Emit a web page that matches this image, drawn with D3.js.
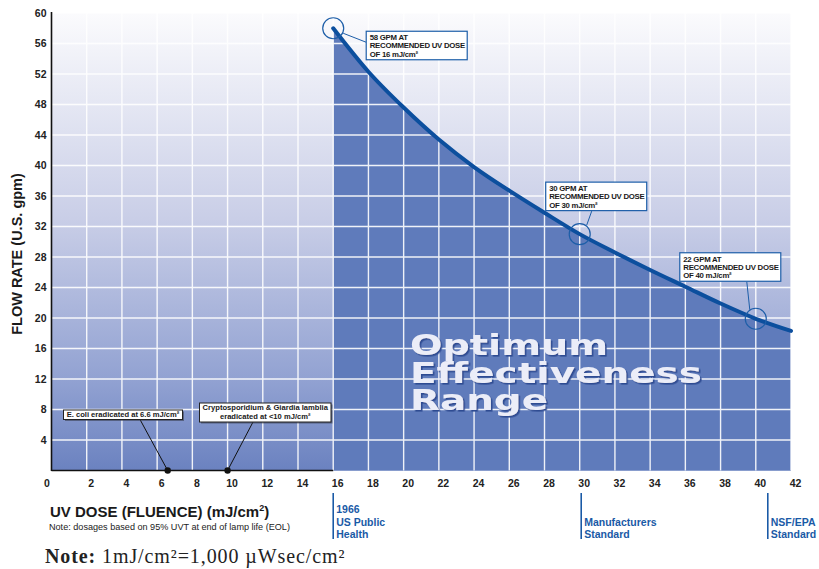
<!DOCTYPE html>
<html>
<head>
<meta charset="utf-8">
<script src="https://cdn.jsdelivr.net/npm/d3@7"></script>
<style>
  body { margin: 0; background: #fff; }
  svg { display: block; font-family: "Liberation Sans", Arial, sans-serif; }
</style>
</head>
<body>
<svg id="chart" width="819" height="569"></svg>
<script>
// flow rate vs UV dose
var doses = [16, 18, 20, 22, 24, 26, 28, 30, 32, 34, 36, 38, 40, 42];
var flowRates = [58, 52.3, 47.6, 43.4, 39.8, 36.7, 33.8, 31.0, 28.6, 26.3, 24.1, 21.9, 19.9, 18.3];

var xTickValues = [0, 2, 4, 6, 8, 10, 12, 14, 16, 18, 20, 22, 24, 26, 28, 30, 32, 34, 36, 38, 40, 42];
var yTickValues = [4, 8, 12, 16, 20, 24, 28, 32, 36, 40, 44, 48, 52, 56, 60];

// callouts on the curve
var calloutDoses = [16, 30, 40];
var calloutTexts = [
	["58 GPM AT", "RECOMMENDED UV DOSE", "OF 16 mJ/cm²"],
	["30 GPM AT", "RECOMMENDED UV DOSE", "OF 30 mJ/cm²"],
	["22 GPM AT", "RECOMMENDED UV DOSE", "OF 40 mJ/cm²"]
];

// pathogen markers on the x axis
var pathogenDoses = [6.6, 10];
var pathogenTexts = [
	["E. coli eradicated at 6.6 mJ/cm²"],
	["Cryptosporidium & Giardia lamblia", "eradicated at <10 mJ/cm²"]
];

// standards under the axis
var standardDoses = [16, 30, 40];
var standardTexts = [
	["1966", "US Public", "Health"],
	["Manufacturers", "Standard"],
	["NSF/EPA", "Standard"]
];

var svg = d3.select('#chart');

var x = d3.scaleLinear().domain([0, 42]).range([51.5, 791]);
var y = d3.scaleLinear().domain([0, 60]).range([470.5, 13]);

var defs = svg.append('defs');
// background gradient
var grad = defs.append('linearGradient')
	.attr('id', 'bgGrad')
	.attr('x1', 0).attr('y1', 0).attr('x2', 0).attr('y2', 1);
grad.append('stop').attr('offset', '0%').attr('stop-color', '#fbfbfd');
grad.append('stop').attr('offset', '45%').attr('stop-color', '#c9cee7');
grad.append('stop').attr('offset', '80%').attr('stop-color', '#92a2d2');
grad.append('stop').attr('offset', '100%').attr('stop-color', '#6b82c0');

// shadow for the big label
var shadow = defs.append('filter').attr('id', 'bigShadow')
	.attr('x', '-5%').attr('y', '-20%').attr('width', '115%').attr('height', '150%');
shadow.append('feDropShadow')
	.attr('dx', 1.6).attr('dy', 1.6).attr('stdDeviation', 0.3)
	.attr('flood-color', '#2f4c92').attr('flood-opacity', 1);

svg.append('rect')
	.attr('x', x(0))
	.attr('y', y(60))
	.attr('width', x(42) - x(0))
	.attr('height', y(0) - y(60))
	.style('fill', 'url(#bgGrad)');

// area under the curve
var pts = doses.map(function(d, i) { return [d, flowRates[i]]; });

var area = d3.area()
	.x(function(d) { return x(d[0]); })
	.y0(y(0))
	.y1(function(d) { return y(d[1]); })
	.curve(d3.curveMonotoneX);

svg.append('path')
	.datum(pts)
	.attr('d', area)
	.style('fill', '#5f7bbb');

// grid
var grid = svg.append('g').style('stroke', '#ffffff').style('stroke-width', 1.4).style('opacity', 0.9);
grid.selectAll('line.h')
	.data(yTickValues)
	.enter().append('line')
	.attr('class', 'h')
	.attr('x1', x(0)).attr('x2', x(42))
	.attr('y1', function(d) { return y(d); })
	.attr('y2', function(d) { return y(d); });
grid.selectAll('line.v')
	.data(xTickValues.filter(function(d) { return d > 0; }))
	.enter().append('line')
	.attr('class', 'v')
	.attr('y1', y(0)).attr('y2', y(60))
	.attr('x1', function(d) { return x(d); })
	.attr('x2', function(d) { return x(d); });

// Optimum Effectiveness Range
var bigText = [
	{t: 'Optimum', w: 198, b: 355},
	{t: 'Effectiveness', w: 292, b: 383},
	{t: 'Range', w: 138, b: 410}
];
svg.append('g')
	.style('font-family', '"DejaVu Sans", sans-serif')
	.style('font-weight', 'bold')
	.style('font-size', '29px')
	.attr('filter', 'url(#bigShadow)')
	.selectAll('text')
	.data(bigText)
	.enter().append('text')
	.attr('x', 410)
	.attr('y', function(d) { return d.b; })
	.attr('textLength', function(d) { return d.w; })
	.attr('lengthAdjust', 'spacingAndGlyphs')
	.style('fill', '#ebedf8')
	.text(function(d) { return d.t; });

// curve
var line = d3.line()
	.x(function(d) { return x(d[0]); })
	.y(function(d) { return y(d[1]); })
	.curve(d3.curveMonotoneX);

svg.append('path')
	.datum(pts)
	.attr('d', line)
	.style('fill', 'none')
	.style('stroke', '#0c4f9e')
	.style('stroke-width', 4)
	.style('stroke-linecap', 'round');

// axes
var yAxis = svg.append('g')
	.attr('transform', 'translate(' + x(0) + ',0)')
	.call(d3.axisLeft(y).tickValues(yTickValues).tickSize(0).tickPadding(5));
yAxis.select('.domain').remove();
yAxis.selectAll('text')
	.style('font-size', '10.5px')
	.style('font-weight', 'bold')
	.style('fill', '#222');

var xAxis = svg.append('g')
	.attr('transform', 'translate(0,' + y(0) + ')')
	.call(d3.axisBottom(x).tickValues(xTickValues).tickSize(0).tickPadding(9));
xAxis.select('.domain').remove();
xAxis.selectAll('text')
	.attr('dx', function(d) { return d === 0 ? -5 : 4; })
	.style('font-size', '10.5px')
	.style('font-weight', 'bold')
	.style('fill', '#222');

svg.append('line')
	.attr('x1', x(0)).attr('x2', x(0))
	.attr('y1', y(60) - 1).attr('y2', y(0) + 0.5)
	.style('stroke', '#111').style('stroke-width', 1.6);
svg.append('line')
	.attr('x1', x(0)).attr('x2', x(16))
	.attr('y1', y(0)).attr('y2', y(0))
	.style('stroke', '#111').style('stroke-width', 1.6);

// curve callouts: box offset from circle, leader ends
var calloutLayout = [
	{bx: 33, by: 3, lx1: 10, ly1: 5, lx2: 33, ly2: 14},
	{bx: -34, by: -52, lx1: 7, ly1: -9, lx2: 12, ly2: -23},
	{bx: -76, by: -66, lx1: -6, ly1: -9, lx2: -9, ly2: -37}
];
calloutDoses.forEach(function(d, i) {
	var cx = x(d), cy = y(flowRates[doses.indexOf(d)]);
	var lay = calloutLayout[i];
	var g = svg.append('g');
	g.append('line')
		.attr('x1', cx + lay.lx1).attr('y1', cy + lay.ly1)
		.attr('x2', cx + lay.lx2).attr('y2', cy + lay.ly2)
		.style('stroke', '#1d5ea8').style('stroke-width', 1);
	g.append('circle')
		.attr('cx', cx).attr('cy', cy).attr('r', 10.5)
		.style('fill', 'none').style('stroke', '#1d5ea8').style('stroke-width', 1.2);
	g.append('rect')
		.attr('x', cx + lay.bx).attr('y', cy + lay.by)
		.attr('width', 101).attr('height', 28.5)
		.style('fill', '#fff').style('stroke', '#1d5ea8').style('stroke-width', 1.2);
	g.selectAll('text')
		.data(calloutTexts[i])
		.enter().append('text')
		.attr('x', cx + lay.bx + 3.5)
		.attr('y', function(t, j) { return cy + lay.by + 9 + j * 8.2; })
		.style('font-size', '7.8px')
		.style('font-weight', 'bold')
		.style('letter-spacing', '-0.25px')
		.style('fill', '#1a1a1a')
		.text(function(t) { return t; });
});

// pathogen callouts
var pathLayout = [
	{x: 63.5, y: 410, w: 119, h: 9.5, lx: 140},
	{x: 199.5, y: 403, w: 131.5, h: 19, lx: 253}
];
pathogenDoses.forEach(function(d, i) {
	var lay = pathLayout[i];
	var g = svg.append('g');
	g.append('line')
		.attr('x1', lay.lx).attr('y1', lay.y + lay.h)
		.attr('x2', x(d)).attr('y2', y(0))
		.style('stroke', '#111').style('stroke-width', 1);
	g.append('circle')
		.attr('cx', x(d)).attr('cy', y(0)).attr('r', 3.2)
		.style('fill', '#111');
	g.append('rect')
		.attr('x', lay.x + 1.5).attr('y', lay.y + 1.5)
		.attr('width', lay.w).attr('height', lay.h)
		.style('fill', '#3a3f52').style('opacity', 0.6);
	g.append('rect')
		.attr('x', lay.x).attr('y', lay.y)
		.attr('width', lay.w).attr('height', lay.h)
		.style('fill', '#fff').style('stroke', '#222').style('stroke-width', 1);
	g.selectAll('text')
		.data(pathogenTexts[i])
		.enter().append('text')
		.attr('x', lay.x + lay.w / 2)
		.attr('y', function(t, j) { return lay.y + 7.2 + j * 8.6; })
		.attr('text-anchor', 'middle')
		.style('font-size', '7.6px')
		.style('font-weight', 'bold')
		.style('fill', '#1a1a1a')
		.text(function(t) { return t; });
});

// standards (small nudge so the markers sit where the print has them)
var standardNudge = [0, 1.5, 12];
standardDoses.forEach(function(d, i) {
	var sx = x(d) + standardNudge[i];
	var g = svg.append('g');
	g.append('line')
		.attr('x1', sx).attr('x2', sx)
		.attr('y1', 493).attr('y2', 539)
		.style('stroke', '#1a5aa6').style('stroke-width', 1.6);
	var lines = standardTexts[i];
	g.selectAll('text')
		.data(lines)
		.enter().append('text')
		.attr('x', sx + 3)
		.attr('y', function(t, j) { return 538 - (lines.length - 1 - j) * 12.3; })
		.style('font-size', '10.5px')
		.style('font-weight', 'bold')
		.style('fill', '#1a5aa6')
		.text(function(t) { return t; });
});

// titles
svg.append('text')
	.attr('transform', 'translate(22,254) rotate(-90)')
	.attr('text-anchor', 'middle')
	.style('font-size', '14.5px')
	.style('font-weight', 'bold')
	.style('fill', '#1a1a1a')
	.text('FLOW RATE (U.S. gpm)');

var xt = svg.append('text')
	.attr('x', 50).attr('y', 517)
	.style('font-size', '15px')
	.style('font-weight', 'bold')
	.style('fill', '#1a1a1a');
xt.append('tspan').text('UV DOSE (FLUENCE) (mJ/cm');
xt.append('tspan').attr('dy', -6).style('font-size', '9px').text('2');
xt.append('tspan').attr('dy', 6).text(')');

svg.append('text')
	.attr('x', 49).attr('y', 530)
	.style('font-size', '9.1px')
	.style('fill', '#222')
	.text('Note: dosages based on 95% UVT at end of lamp life (EOL)');

var nt = svg.append('text')
	.attr('x', 45).attr('y', 563)
	.style('font-family', '"Liberation Serif", "Times New Roman", serif')
	.style('font-size', '20px')
	.style('letter-spacing', '0.9px')
	.style('fill', '#222');
nt.append('tspan').style('font-weight', 'bold').text('Note: ');
nt.append('tspan').text('1mJ/cm²=1,000 µWsec/cm²');
</script>
</body>
</html>
